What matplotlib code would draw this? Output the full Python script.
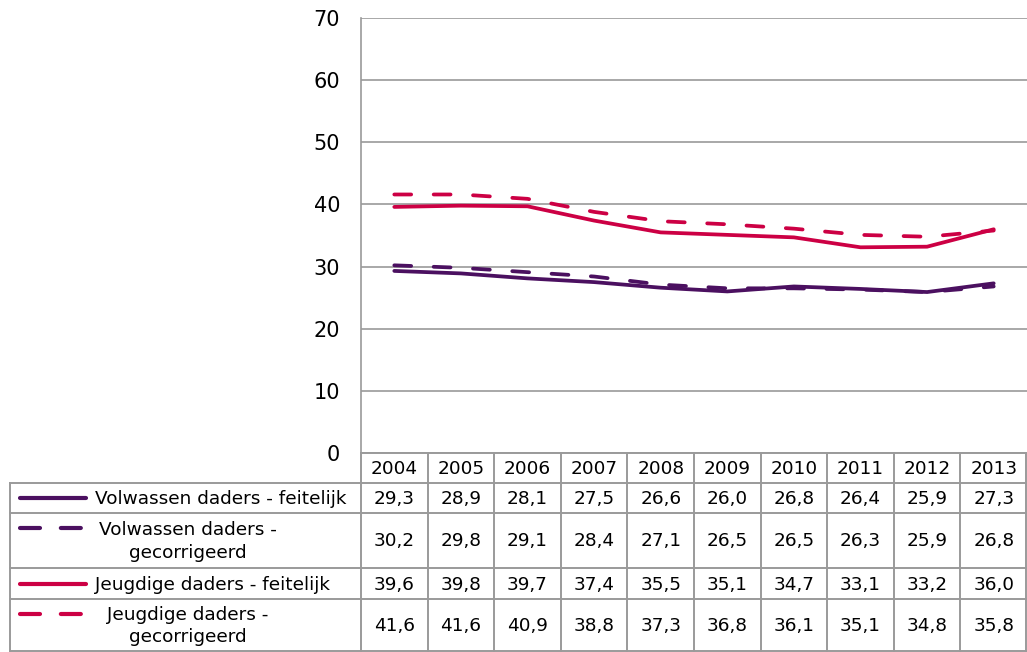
import matplotlib
matplotlib.use("Agg")
import matplotlib.pyplot as plt
from matplotlib.lines import Line2D

# data
years = ["2004", "2005", "2006", "2007", "2008", "2009", "2010", "2011", "2012", "2013"]
volw_feit = [29.3, 28.9, 28.1, 27.5, 26.6, 26.0, 26.8, 26.4, 25.9, 27.3]
volw_corr = [30.2, 29.8, 29.1, 28.4, 27.1, 26.5, 26.5, 26.3, 25.9, 26.8]
jeugd_feit = [39.6, 39.8, 39.7, 37.4, 35.5, 35.1, 34.7, 33.1, 33.2, 36.0]
jeugd_corr = [41.6, 41.6, 40.9, 38.8, 37.3, 36.8, 36.1, 35.1, 34.8, 35.8]
labels = ["Volwassen daders - feitelijk", "Volwassen daders -\ngecorrigeerd",
          "Jeugdige daders - feitelijk", "Jeugdige daders -\ngecorrigeerd"]

PURPLE = "#4b1060"
RED = "#cc0044"
GRID = "#9a9a9a"
FS = 13.3
W, H = 1027, 652

series = [(volw_feit, PURPLE, "-"), (volw_corr, PURPLE, "--"),
          (jeugd_feit, RED, "-"), (jeugd_corr, RED, "--")]
dash = (0, (4.5, 6.0))

fig = plt.figure(figsize=(W / 100, H / 100), dpi=100)

# main plot area (pixel box 361..1027 x 18..453)
ax = fig.add_axes([361 / W, 1 - 453 / H, (W - 361) / W, (453 - 18) / H])
x = list(range(len(years)))
for vals, col, ls in series:
    ax.plot(x, vals, color=col, lw=2.7, linestyle=dash if ls == "--" else "-",
            solid_capstyle="round", dash_capstyle="round", zorder=3)
ax.set_xlim(-0.5, len(years) - 0.5)
ax.set_ylim(0, 70)
ax.set_yticks(range(0, 71, 10))
ax.set_xticks([])
ax.grid(axis="y", color=GRID, lw=1.2)
for s in ["top", "right", "bottom"]:
    ax.spines[s].set_visible(False)
ax.spines["left"].set_color(GRID)
ax.spines["left"].set_linewidth(1.2)
ax.tick_params(axis="y", length=0, pad=15, labelsize=15)

# data table drawn in pixel coords
tb = fig.add_axes([0, 0, 1, 1])
tb.set_xlim(0, W)
tb.set_ylim(H, 0)
tb.axis("off")
tb.patch.set_alpha(0)

col_w = (W - 361) / len(years)
rows = [453, 483, 513, 568, 599, 651]
lkw = dict(color=GRID, lw=1.4)

# horizontal lines
tb.plot([361, W], [rows[0], rows[0]], **lkw)
for r in rows[1:]:
    tb.plot([10, W], [r, r], **lkw)
# vertical lines
tb.plot([10, 10], [rows[1], rows[-1]], **lkw)
for i in range(len(years) + 1):
    xx = min(361 + i * col_w, W - 1)
    tb.plot([xx, xx], [rows[0], rows[-1]], **lkw)

# year header
for i, yr in enumerate(years):
    tb.text(361 + (i + 0.5) * col_w, (rows[0] + rows[1]) / 2 + 1, yr,
            ha="center", va="center", fontsize=FS)

# rows with legend key and values
for r, ((vals, col, ls), lab) in enumerate(zip(series, labels)):
    top, bot = rows[r + 1], rows[r + 2]
    yc = (top + bot) / 2
    ky = yc if "\n" not in lab else top + 15
    tb.add_line(Line2D([20, 86], [ky, ky], color=col, lw=3.0,
                       linestyle=(0, (4.8, 5.0)) if ls == "--" else "-",
                       solid_capstyle="round", dash_capstyle="round"))
    if "\n" in lab:
        tb.text(188, yc + 1, lab, ha="center", va="center", fontsize=FS,
                linespacing=1.3)
    else:
        tb.text(95, yc + 1, lab, ha="left", va="center", fontsize=FS)
    for i, v in enumerate(vals):
        tb.text(361 + (i + 0.5) * col_w, yc + 1, f"{v:.1f}".replace(".", ","),
                ha="center", va="center", fontsize=FS)

fig.savefig("out.png", dpi=100)
